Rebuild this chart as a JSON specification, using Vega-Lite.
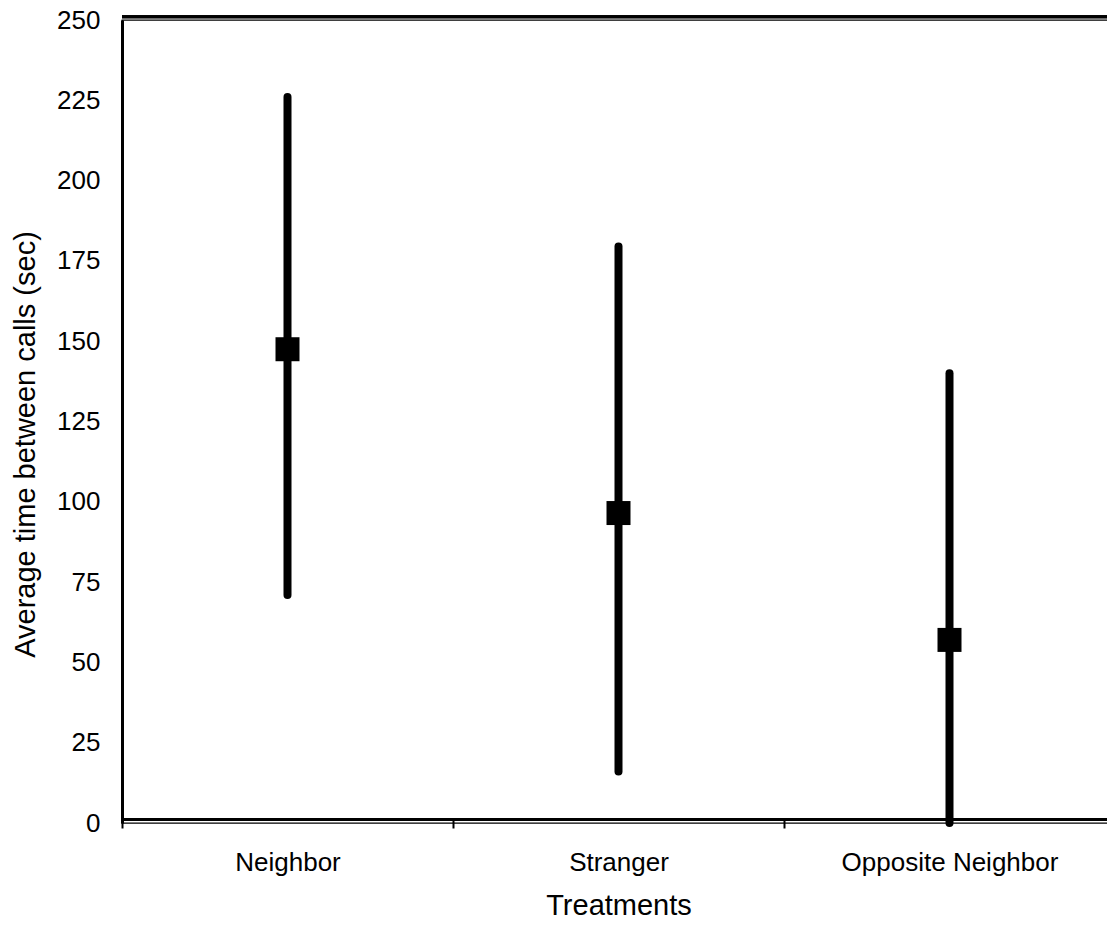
{
  "$schema": "https://vega.github.io/schema/vega-lite/v6.json",
  "autosize": {"type": "none"},
  "padding": {"left": 122, "top": 20, "right": -8, "bottom": 104},
  "width": 993,
  "height": 803,
  "background": "white",
  "config": {
    "view": {"stroke": "black", "strokeWidth": 1.3},
    "font": "Liberation Sans",
    "axis": {"labelFont": "Liberation Sans", "titleFont": "Liberation Sans", "labelColor": "black", "titleColor": "black", "titleFontWeight": "normal", "grid": false, "labelLimit": 0}
  },
  "data": {
    "values": [
      {"treatment": "Neighbor", "mean": 147.5, "lo": 71, "hi": 226},
      {"treatment": "Stranger", "mean": 96.5, "lo": 16, "hi": 179.5},
      {"treatment": "Opposite Neighbor", "mean": 57, "lo": 0, "hi": 140}
    ]
  },
  "layer": [
    {
      "mark": {"type": "rule", "color": "black", "strokeWidth": 8, "strokeCap": "round"},
      "encoding": {
        "x": {
          "field": "treatment", "type": "nominal",
          "sort": ["Neighbor", "Stranger", "Opposite Neighbor"],
          "scale": {"paddingInner": 0, "paddingOuter": 0},
          "axis": {
            "orient": "bottom", "offset": -4,
            "domainColor": "black", "domainWidth": 3,
            "tickBand": "extent", "tickColor": "black", "tickWidth": 2, "tickSize": 9,
            "labelAngle": 0, "labelFontSize": 26, "labelBaseline": "alphabetic", "labelPadding": 42, "labelLimit": 0,
            "title": "Treatments", "titleFontSize": 29, "titleBaseline": "alphabetic", "titleY": 95
          }
        },
        "y": {
          "field": "lo", "type": "quantitative",
          "scale": {"domain": [0, 250], "nice": false, "zero": false},
          "axis": {
            "values": [0, 25, 50, 75, 100, 125, 150, 175, 200, 225, 250],
            "domainColor": "black", "domainWidth": 3,
            "ticks": false, "tickSize": 0,
            "labelFontSize": 26, "labelPadding": 22, "labelBaseline": "middle",
            "title": "Average time between calls (sec)", "titleFontSize": 29,
            "titleAngle": -90, "titleAlign": "center", "titleBaseline": "alphabetic",
            "titleX": -88, "titleY": 424
          }
        },
        "y2": {"field": "hi"}
      }
    },
    {
      "mark": {"type": "point", "shape": "square", "filled": true, "color": "black", "size": 576, "opacity": 1, "strokeWidth": 0},
      "encoding": {
        "x": {"field": "treatment", "type": "nominal", "sort": ["Neighbor", "Stranger", "Opposite Neighbor"]},
        "y": {"field": "mean", "type": "quantitative"}
      }
    },
    {
      "mark": {"type": "rule", "color": "black", "strokeWidth": 3},
      "encoding": {
        "y": {"datum": 251}
      }
    }
  ]
}
